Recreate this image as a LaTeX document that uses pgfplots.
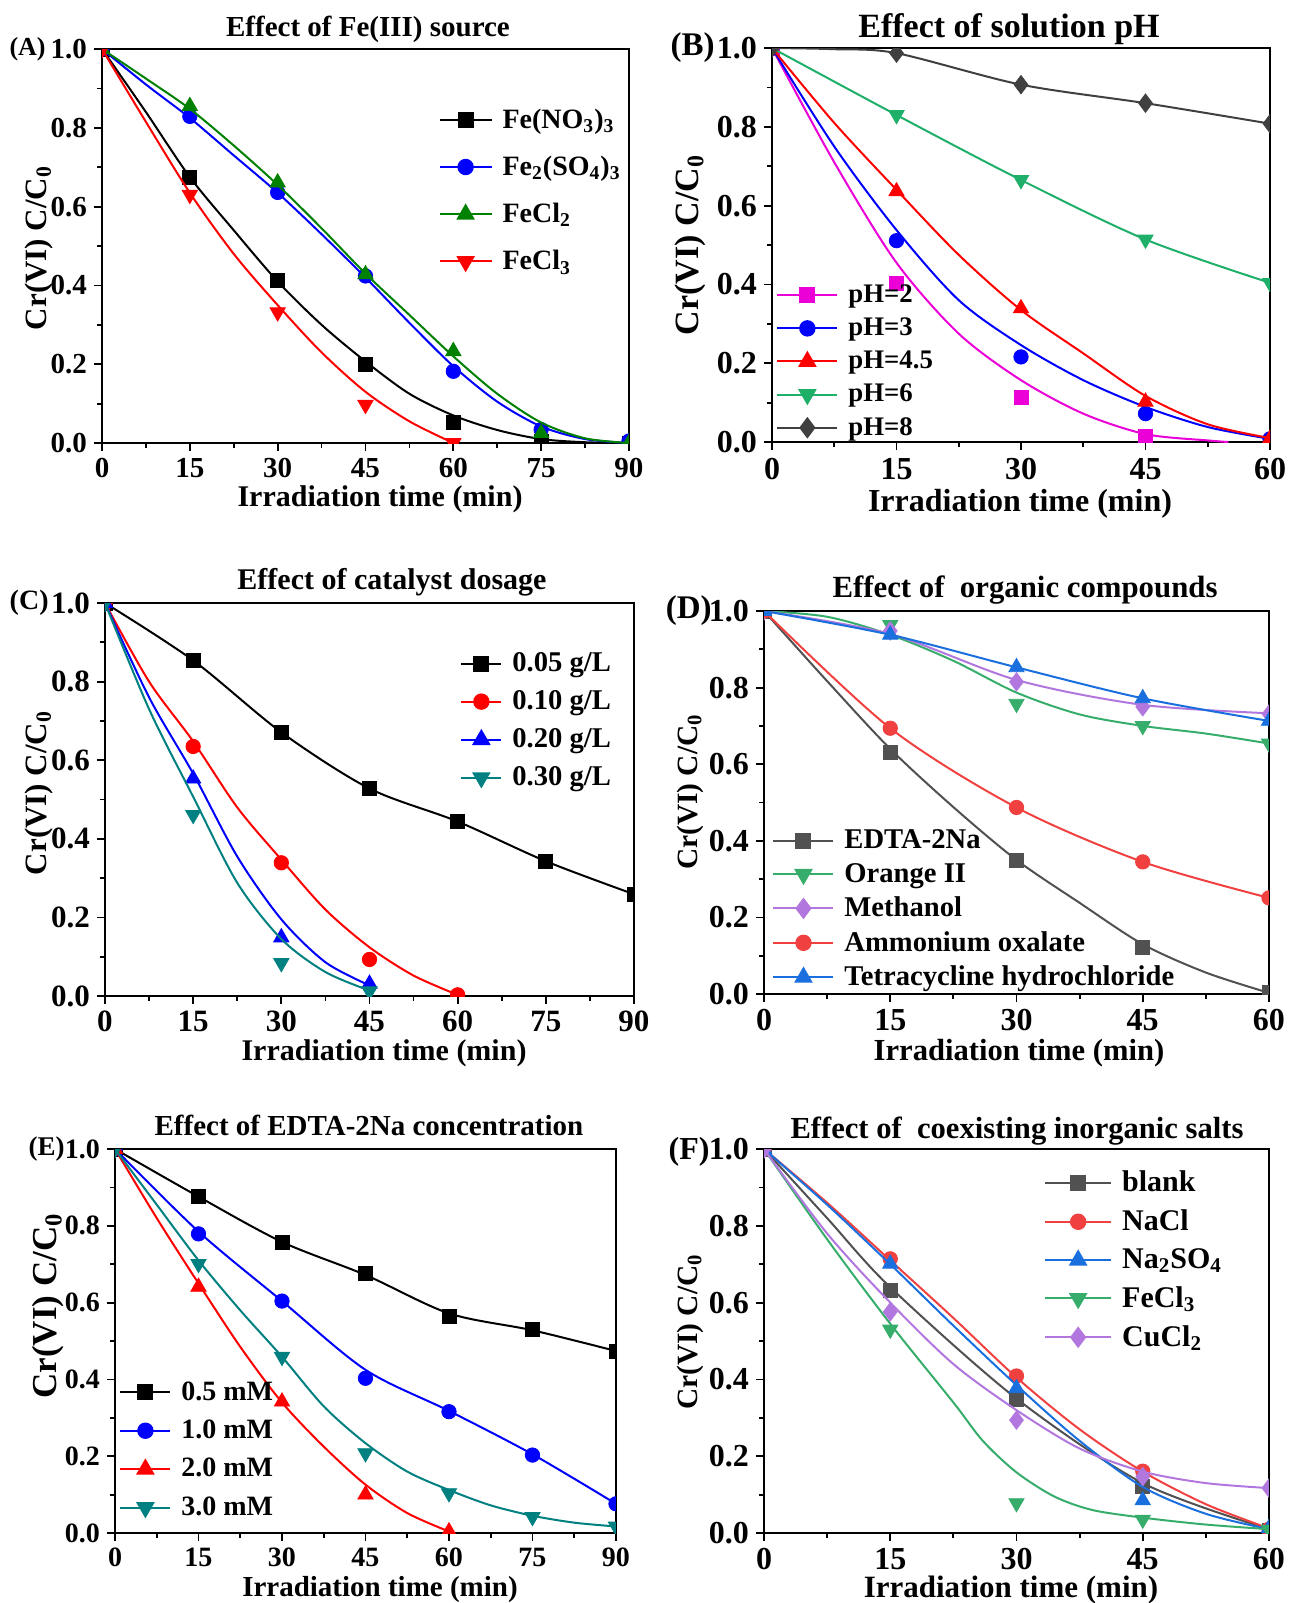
\documentclass[border=0pt]{standalone}
\usepackage{fontspec}
\setmainfont{Liberation Serif}
\usepackage{pgfplots}
\pgfplotsset{compat=1.18}
\newcommand\fs[1]{\fontsize{#1}{#1}\selectfont\bfseries}
\definecolor{cgrnA}{RGB}{0,128,0}
\definecolor{cmag}{RGB}{235,0,215}
\definecolor{cgrnB}{RGB}{30,175,105}
\definecolor{cdark}{RGB}{64,64,64}
\definecolor{cteal}{RGB}{0,128,128}
\definecolor{ogray}{RGB}{81,81,81}
\definecolor{ored}{RGB}{241,64,64}
\definecolor{oblue}{RGB}{26,111,223}
\definecolor{ogrn}{RGB}{55,173,107}
\definecolor{opurp}{RGB}{177,119,222}
\pgfplotsset{
  panel/.style={
    scale only axis, anchor=south west,
    ymin=0, ymax=1, ytick={0,0.2,0.4,0.6,0.8,1.0},
    minor x tick num=1, minor y tick num=1,
    tick pos=left, tick align=outside,
    major tick length=4pt, minor tick length=2.5pt,
    every tick/.style={black, line width=0.9pt},
    axis line style={line width=1.2pt},
    /pgf/number format/assume math mode=true,
    yticklabel style={/pgf/number format/.cd, fixed, fixed zerofill, precision=1},
    clip marker paths=true,
    legend cell align=left,
    legend style={draw=none, fill=none, anchor=north west, inner sep=0pt,
      /tikz/every odd column/.append style={column sep=3pt}},
    legend image code/.code={\draw[mark repeat=2,mark phase=2,##1] plot coordinates {(0pt,0pt) (\legh,0pt) (2*\legh,0pt)};},
  },
  crv/.style={smooth, no markers, line width=1pt, forget plot},
  mk/.style={only marks, forget plot},
  msq/.style={mark=square*, mark size=3.5pt},
  mci/.style={mark=*, mark size=3.6pt},
  mup/.style={mark=triangle*, mark size=4.4pt},
  mdn/.style={mark=triangle*, mark size=4.4pt, mark options={rotate=180}},
  mdi/.style={mark=diamond*, mark size=4.6pt},
}
\begin{document}
\begin{tikzpicture}
\path[use as bounding box] (0pt,0pt) rectangle (645pt,-801.5pt);

% (A) Fe(III) source
\def\legh{13pt}
\begin{axis}[panel, at={(51pt,-221.5pt)}, width=263.5pt, height=197pt,
  xmin=0, xmax=90, xtick={0,15,...,90},
  tick label style={font=\fs{14.5}},
  legend style={at={(0.638,0.86)}, font=\fs{14}, row sep=8.4pt}]
\addplot[crv, black] coordinates {(0,1)(7.5,0.84)(15,0.675)(22.5,0.54)(30,0.41)(37.5,0.30)(45,0.207)(52.5,0.125)(60,0.07)(67.5,0.033)(75,0.01)(82.5,0.002)(90,0)};
\addplot[mk, black, msq] coordinates {(0,1)(15,0.674)(30,0.413)(45,0.199)(60,0.053)(75,0.005)(90,0)};
\addlegendimage{black, line width=1pt, msq}
\addlegendentry{Fe(NO\textsubscript{3})\textsubscript{3}}
\addplot[crv, blue] coordinates {(0,1)(7.5,0.91)(15,0.825)(22.5,0.73)(30,0.635)(37.5,0.53)(45,0.42)(52.5,0.305)(60,0.195)(67.5,0.105)(75,0.042)(82.5,0.01)(90,0)};
\addplot[mk, blue, mci] coordinates {(0,1)(15,0.829)(30,0.636)(45,0.424)(60,0.182)(75,0.034)(90,0.005)};
\addlegendimage{blue, line width=1pt, mci}
\addlegendentry{Fe\textsubscript{2}(SO\textsubscript{4})\textsubscript{3}}
\addplot[crv, cgrnA] coordinates {(0,1)(7.5,0.925)(15,0.848)(22.5,0.755)(30,0.655)(37.5,0.545)(45,0.43)(52.5,0.325)(60,0.22)(67.5,0.125)(75,0.052)(82.5,0.012)(90,0)};
\addplot[mk, cgrnA, mup] coordinates {(0,1)(15,0.855)(30,0.661)(45,0.428)(60,0.233)(75,0.025)(90,0)};
\addlegendimage{cgrnA, line width=1pt, mup}
\addlegendentry{FeCl\textsubscript{2}}
\addplot[crv, red] coordinates {(0,1)(7.5,0.815)(15,0.635)(22.5,0.48)(30,0.35)(37.5,0.23)(45,0.13)(52.5,0.055)(60,0)};
\addplot[mk, red, mdn] coordinates {(0,1)(15,0.63)(30,0.332)(45,0.097)(60,0)};
\addlegendimage{red, line width=1pt, mdn}
\addlegendentry{FeCl\textsubscript{3}}
\end{axis}

% (B) solution pH
\def\legh{15pt}
\begin{axis}[panel, at={(386pt,-221pt)}, width=249pt, height=197pt,
  xmin=0, xmax=60, xtick={0,15,...,60},
  tick label style={font=\fs{16}},
  xticklabel style={inner ysep=1pt, yshift=-3pt},
  legend style={at={(0.008,0.41)}, font=\fs{13.4}, row sep=2.2pt}]
\addplot[crv, cmag] coordinates {(0,1)(7.5,0.71)(15,0.455)(22.5,0.275)(30,0.157)(37.5,0.072)(45,0.02)(52.5,0.004)(55,0)};
\addplot[mk, cmag, msq] coordinates {(0,1)(15,0.403)(30,0.114)(45,0.013)};
\addlegendimage{cmag, line width=1pt, msq}
\addlegendentry{pH=2}
\addplot[crv, blue] coordinates {(0,1)(7.5,0.75)(15,0.538)(22.5,0.36)(30,0.246)(37.5,0.157)(45,0.089)(52.5,0.038)(60,0.008)};
\addplot[mk, blue, mci] coordinates {(0,1)(15,0.511)(30,0.216)(45,0.072)(60,0.008)};
\addlegendimage{blue, line width=1pt, mci}
\addlegendentry{pH=3}
\addplot[crv, red] coordinates {(0,1)(7.5,0.81)(15,0.64)(22.5,0.475)(30,0.335)(37.5,0.225)(45,0.117)(52.5,0.045)(60,0.01)};
\addplot[mk, red, mup] coordinates {(0,1)(15,0.636)(30,0.339)(45,0.102)(60,0.008)};
\addlegendimage{red, line width=1pt, mup}
\addlegendentry{pH=4.5}
\addplot[crv, cgrnB] coordinates {(0,1)(15,0.83)(30,0.665)(45,0.514)(60,0.404)};
\addplot[mk, cgrnB, mdn] coordinates {(0,1)(15,0.83)(30,0.665)(45,0.514)(60,0.404)};
\addlegendimage{cgrnB, line width=1pt, mdn}
\addlegendentry{pH=6}
\addplot[crv, cdark] coordinates {(0,1)(7.5,0.997)(15,0.987)(30,0.907)(45,0.86)(60,0.808)};
\addplot[mk, cdark, mdi] coordinates {(0,1)(15,0.987)(30,0.907)(45,0.86)(60,0.808)};
\addlegendimage{cdark, line width=1pt, mdi}
\addlegendentry{pH=8}
\end{axis}

% (C) catalyst dosage
\def\legh{10pt}
\begin{axis}[panel, at={(52.5pt,-498pt)}, width=264.5pt, height=196.5pt,
  xmin=0, xmax=90, xtick={0,15,...,90},
  tick label style={font=\fs{15.5}},
  legend style={at={(0.671,0.885)}, font=\fs{14.3}, row sep=4pt}]
\addplot[crv, black] coordinates {(0,1)(15,0.854)(30,0.671)(45,0.528)(60,0.444)(75,0.343)(90,0.259)};
\addplot[mk, black, msq] coordinates {(0,1)(15,0.854)(30,0.671)(45,0.528)(60,0.444)(75,0.343)(90,0.259)};
\addlegendimage{black, line width=1pt, msq}
\addlegendentry{0.05 g/L}
\addplot[crv, red] coordinates {(0,1)(7.5,0.80)(15,0.648)(22.5,0.48)(30,0.347)(37.5,0.22)(45,0.124)(52.5,0.052)(60,0.003)};
\addplot[mk, red, mci] coordinates {(0,1)(15,0.635)(30,0.339)(45,0.093)(60,0.003)};
\addlegendimage{red, line width=1pt, mci}
\addlegendentry{0.10 g/L}
\addplot[crv, blue] coordinates {(0,1)(7.5,0.76)(15,0.566)(22.5,0.355)(30,0.195)(37.5,0.086)(45,0.027)};
\addplot[mk, blue, mup] coordinates {(0,1)(15,0.553)(30,0.149)(45,0.031)};
\addlegendimage{blue, line width=1pt, mup}
\addlegendentry{0.20 g/L}
\addplot[crv, cteal] coordinates {(0,1)(7.5,0.73)(15,0.507)(22.5,0.288)(30,0.145)(37.5,0.061)(45,0.014)};
\addplot[mk, cteal, mdn] coordinates {(0,1)(15,0.461)(30,0.084)(45,0.012)};
\addlegendimage{cteal, line width=1pt, mdn}
\addlegendentry{0.30 g/L}
\end{axis}

% (D) organic compounds
\def\legh{15pt}
\begin{axis}[panel, at={(382pt,-497pt)}, width=252.5pt, height=191.5pt,
  xmin=0, xmax=60, xtick={0,15,...,60},
  tick label style={font=\fs{16}},
  legend style={at={(0.016,0.44)}, font=\fs{14.3}, row sep=1.8pt}]
\addplot[crv, ogray] coordinates {(0,1)(7.5,0.817)(15,0.64)(22.5,0.488)(30,0.35)(37.5,0.238)(45,0.13)(52.5,0.056)(60,0.003)};
\addplot[mk, ogray, msq] coordinates {(0,1)(15,0.631)(30,0.348)(45,0.121)(60,0.003)};
\addlegendimage{ogray, line width=1pt, msq}
\addlegendentry{EDTA-2Na}
\addplot[crv, ogrn] coordinates {(0,1)(7.5,0.985)(15,0.938)(22.5,0.87)(30,0.787)(37.5,0.73)(45,0.70)(52.5,0.68)(60,0.654)};
\addplot[mk, ogrn, mdn] coordinates {(0,1)(15,0.964)(30,0.758)(45,0.70)(60,0.654)};
\addlegendimage{ogrn, line width=1pt, mdn}
\addlegendentry{Orange II}
\addplot[crv, opurp] coordinates {(0,1)(15,0.94)(30,0.82)(45,0.755)(60,0.733)};
\addplot[mk, opurp, mdi] coordinates {(0,1)(15,0.948)(30,0.815)(45,0.75)(60,0.731)};
\addlegendimage{opurp, line width=1pt, mdi}
\addlegendentry{Methanol}
\addplot[crv, ored] coordinates {(0,1)(15,0.694)(30,0.487)(45,0.345)(60,0.251)};
\addplot[mk, ored, mci] coordinates {(0,1)(15,0.694)(30,0.487)(45,0.345)(60,0.251)};
\addlegendimage{ored, line width=1pt, mci}
\addlegendentry{Ammonium oxalate}
\addplot[crv, oblue] coordinates {(0,1)(15,0.938)(30,0.853)(45,0.772)(60,0.713)};
\addplot[mk, oblue, mup] coordinates {(0,1)(15,0.938)(30,0.853)(45,0.772)(60,0.713)};
\addlegendimage{oblue, line width=1pt, mup}
\addlegendentry{Tetracycline hydrochloride}
\end{axis}

% (E) EDTA-2Na concentration
\def\legh{12.5pt}
\begin{axis}[panel, at={(57.5pt,-766.5pt)}, width=250.5pt, height=192pt,
  xmin=0, xmax=90, xtick={0,15,...,90},
  tick label style={font=\fs{14}},
  legend style={at={(0.008,0.406)}, font=\fs{14}, row sep=4.4pt}]
\addplot[crv, black] coordinates {(0,1)(15,0.876)(30,0.758)(45,0.672)(60,0.572)(75,0.528)(90,0.474)};
\addplot[mk, black, msq] coordinates {(0,1)(15,0.876)(30,0.756)(45,0.677)(60,0.563)(75,0.53)(90,0.474)};
\addlegendimage{black, line width=1pt, msq}
\addlegendentry{0.5 mM}
\addplot[crv, blue] coordinates {(0,1)(15,0.785)(30,0.604)(45,0.425)(60,0.318)(75,0.205)(90,0.076)};
\addplot[mk, blue, mci] coordinates {(0,1)(15,0.779)(30,0.604)(45,0.403)(60,0.316)(75,0.203)(90,0.076)};
\addlegendimage{blue, line width=1pt, mci}
\addlegendentry{1.0 mM}
\addplot[crv, red] coordinates {(0,1)(7.5,0.82)(15,0.65)(22.5,0.485)(30,0.34)(37.5,0.225)(45,0.126)(52.5,0.052)(60,0.004)};
\addplot[mk, red, mup] coordinates {(0,1)(15,0.641)(30,0.342)(45,0.10)(60,0.004)};
\addlegendimage{red, line width=1pt, mup}
\addlegendentry{2.0 mM}
\addplot[crv, cteal] coordinates {(0,1)(7.5,0.855)(15,0.71)(22.5,0.58)(30,0.459)(37.5,0.33)(45,0.234)(52.5,0.16)(60,0.112)(67.5,0.072)(75,0.045)(82.5,0.027)(90,0.017)};
\addplot[mk, cteal, mdn] coordinates {(0,1)(15,0.701)(30,0.459)(45,0.208)(60,0.104)(75,0.042)(90,0.017)};
\addlegendimage{cteal, line width=1pt, mdn}
\addlegendentry{3.0 mM}
\end{axis}

% (F) coexisting inorganic salts
\def\legh{16.5pt}
\begin{axis}[panel, at={(382pt,-766.5pt)}, width=252.5pt, height=192pt,
  xmin=0, xmax=60, xtick={0,15,...,60},
  tick label style={font=\fs{16}},
  legend style={at={(0.554,0.954)}, font=\fs{15}, row sep=3.5pt}]
\addplot[crv, ogray] coordinates {(0,1)(7.5,0.82)(15,0.64)(30,0.35)(45,0.13)(60,0.01)};
\addplot[mk, ogray, msq] coordinates {(0,1)(15,0.632)(30,0.348)(45,0.121)(60,0.007)};
\addlegendimage{ogray, line width=1pt, msq}
\addlegendentry{blank}
\addplot[crv, ored] coordinates {(0,1)(7.5,0.86)(15,0.71)(22.5,0.56)(30,0.405)(37.5,0.27)(45,0.16)(52.5,0.075)(60,0.012)};
\addplot[mk, ored, mci] coordinates {(0,1)(15,0.714)(30,0.409)(45,0.161)(60,0.01)};
\addlegendimage{ored, line width=1pt, mci}
\addlegendentry{NaCl}
\addplot[crv, oblue] coordinates {(0,1)(7.5,0.855)(15,0.70)(22.5,0.54)(30,0.385)(37.5,0.24)(45,0.12)(52.5,0.05)(60,0.01)};
\addplot[mk, oblue, mup] coordinates {(0,1)(15,0.701)(30,0.377)(45,0.085)(60,0.013)};
\addlegendimage{oblue, line width=1pt, mup}
\addlegendentry{Na\textsubscript{2}SO\textsubscript{4}}
\addplot[crv, ogrn] coordinates {(0,1)(7.5,0.765)(15,0.545)(22.5,0.34)(26,0.24)(30,0.158)(34.5,0.095)(39,0.06)(45,0.04)(52.5,0.022)(60,0.01)};
\addplot[mk, ogrn, mdn] coordinates {(0,1)(15,0.53)(30,0.078)(45,0.035)(60,0.009)};
\addlegendimage{ogrn, line width=1pt, mdn}
\addlegendentry{FeCl\textsubscript{3}}
\addplot[crv, opurp] coordinates {(0,1)(7.5,0.78)(15,0.60)(22.5,0.44)(30,0.32)(37.5,0.22)(45,0.16)(52.5,0.13)(60,0.117)};
\addplot[mk, opurp, mdi] coordinates {(0,1)(15,0.576)(30,0.294)(45,0.147)(60,0.117)};
\addlegendimage{opurp, line width=1pt, mdi}
\addlegendentry{CuCl\textsubscript{2}}
\end{axis}

% titles
\node[font=\fs{14.5}] at (184pt,-14.5pt) {Effect of Fe(III) source};
\node[font=\fs{17}] at (504.5pt,-14.5pt) {Effect of solution pH};
\node[font=\fs{15}] at (196pt,-291pt) {Effect of catalyst dosage};
\node[font=\fs{15.4}] at (512.5pt,-295pt) {Effect of\ \ organic compounds};
\node[font=\fs{14.5}] at (184.5pt,-562.5pt) {Effect of EDTA-2Na concentration};
\node[font=\fs{15.3}] at (508.5pt,-565.5pt) {Effect of\ \ coexisting inorganic salts};
% x labels
\node[font=\fs{15}] at (190pt,-249.5pt) {Irradiation time (min)};
\node[font=\fs{16}, inner sep=1pt] at (510pt,-252pt) {Irradiation time (min)};
\node[font=\fs{15}] at (192pt,-526.5pt) {Irradiation time (min)};
\node[font=\fs{15.3}] at (509.5pt,-526.5pt) {Irradiation time (min)};
\node[font=\fs{14.5}] at (190pt,-795pt) {Irradiation time (min)};
\node[font=\fs{15.5}] at (505.5pt,-795pt) {Irradiation time (min)};
% y labels
\node[font=\fs{15.5}, rotate=90] at (19.5pt,-124pt) {Cr(VI) C/C\textsubscript{0}};
\node[font=\fs{17}, rotate=90] at (345pt,-122.5pt) {Cr(VI) C/C\textsubscript{0}};
\node[font=\fs{15.5}, rotate=90] at (19.5pt,-396.5pt) {Cr(VI) C/C\textsubscript{0}};
\node[font=\fs{14.7}, rotate=90] at (345pt,-396pt) {Cr(VI) C/C\textsubscript{0}};
\node[font=\fs{17.5}, rotate=90, inner sep=1pt] at (24pt,-653pt) {Cr(VI) C/C\textsubscript{0}};
\node[font=\fs{14.7}, rotate=90] at (345pt,-666pt) {Cr(VI) C/C\textsubscript{0}};
% panel letters
\node[font=\fs{13}, anchor=east, inner sep=0pt] at (23pt,-24.5pt) {(A)};
\node[font=\fs{16.5}, anchor=east, inner sep=0pt] at (357.5pt,-24pt) {(B)};
\node[font=\fs{14}, anchor=east, inner sep=0pt] at (24.5pt,-301.5pt) {(C)};
\node[font=\fs{16.5}, anchor=east, inner sep=0pt] at (356pt,-305.5pt) {(D)};
\node[font=\fs{13.5}, anchor=east, inner sep=0pt] at (32.5pt,-574.5pt) {(E)};
\node[font=\fs{16}, anchor=east, inner sep=0pt] at (355pt,-576pt) {(F)};
\end{tikzpicture}
\end{document}
